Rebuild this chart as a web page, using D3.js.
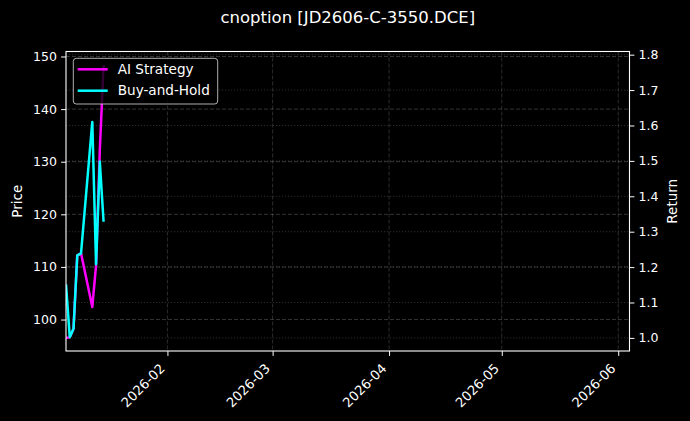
<!DOCTYPE html>
<html>
<head>
<meta charset="utf-8">
<script src="https://cdn.jsdelivr.net/npm/d3@7"></script>
<style>
  body { margin: 0; background: #000; }
  text { font-family: "DejaVu Sans", sans-serif; fill: #fff; }
</style>
</head>
<body>
<div id="chart"></div>
<script>
// values
const dates = ["2026-01-05", "2026-01-06", "2026-01-07", "2026-01-08", "2026-01-09",
               "2026-01-12", "2026-01-13", "2026-01-14", "2026-01-15"];
const aiStrategy = [1.000, 1.002, 1.026, 1.233, 1.239, 1.087, 1.205, 1.530, 1.770];
const buyHold    = [1.151, 1.002, 1.026, 1.233, 1.239, 1.610, 1.208, 1.498, 1.328];

const seriesNames = ["AI Strategy", "Buy-and-Hold"];
const seriesColors = ["#ff00ff", "#00ffff"];

const priceTicks = [100, 110, 120, 130, 140, 150];
const returnTicks = [1.0, 1.1, 1.2, 1.3, 1.4, 1.5, 1.6, 1.7, 1.8];
const monthTicks = ["2026-02-01", "2026-03-01", "2026-04-01", "2026-05-01", "2026-06-01"];
const xRange = ["2026-01-05", "2026-06-04"];
const priceRange = [94.02, 150.95];
const returnRange = [0.963, 1.809];

const W = 690, H = 421;
const margin = {top: 51.5, right: 60.5, bottom: 70, left: 66},
  width = W - margin.left - margin.right,
  height = H - margin.top - margin.bottom;

const parse = d3.utcParse("%Y-%m-%d");

const svg = d3.select("#chart").append("svg")
  .attr("width", W).attr("height", H)
  .style("background", "#000");

svg.append("text")
  .attr("x", margin.left + width / 2).attr("y", 22.5)
  .attr("text-anchor", "middle")
  .attr("font-size", "16.5px")
  .text("cnoption [JD2606-C-3550.DCE]");

const g = svg.append("g").attr("transform", `translate(${margin.left},${margin.top})`);

const x = d3.scaleUtc().domain(xRange.map(parse)).range([0, width]);
const yPrice = d3.scaleLinear().domain(priceRange).range([height, 0]);
const yRet = d3.scaleLinear().domain(returnRange).range([height, 0]);

// grids
g.append("g").selectAll("line").data(priceTicks).join("line")
  .attr("x1", 0).attr("x2", width)
  .attr("y1", d => yPrice(d)).attr("y2", d => yPrice(d))
  .attr("stroke", "rgba(255,255,255,0.25)").attr("stroke-width", 0.8)
  .attr("stroke-dasharray", "4,2");
g.append("g").selectAll("line").data(returnTicks).join("line")
  .attr("x1", 0).attr("x2", width)
  .attr("y1", d => yRet(d)).attr("y2", d => yRet(d))
  .attr("stroke", "rgba(255,255,255,0.22)").attr("stroke-width", 0.8)
  .attr("stroke-dasharray", "1.2,1.8");
g.append("g").selectAll("line").data(monthTicks.map(parse)).join("line")
  .attr("x1", d => x(d)).attr("x2", d => x(d))
  .attr("y1", 0).attr("y2", height)
  .attr("stroke", "rgba(255,255,255,0.22)").attr("stroke-width", 0.8)
  .attr("stroke-dasharray", "4,2");

// lines
svg.append("clipPath").attr("id", "plot")
  .append("rect").attr("width", width).attr("height", height);

const lineGen = d3.line().x((d, i) => x(parse(dates[i]))).y(d => yRet(d));
[aiStrategy, buyHold].forEach((vals, k) => {
  g.append("path")
    .datum(vals)
    .attr("clip-path", "url(#plot)")
    .attr("fill", "none")
    .attr("stroke", seriesColors[k])
    .attr("stroke-width", 2.5)
    .attr("stroke-linejoin", "round")
    .attr("d", lineGen);
});

// frame
g.append("rect").attr("width", width).attr("height", height)
  .attr("fill", "none").attr("stroke", "#fff").attr("stroke-width", 1.1);

// axes
const left = g.append("g").call(d3.axisLeft(yPrice).tickValues(priceTicks)
  .tickSize(4.9).tickPadding(4.2).tickFormat(d3.format("d")));
const right = g.append("g").attr("transform", `translate(${width},0)`)
  .call(d3.axisRight(yRet).tickValues(returnTicks)
  .tickSize(4.9).tickPadding(4.2).tickFormat(d3.format(".1f")));
const bottom = g.append("g").attr("transform", `translate(0,${height})`)
  .call(d3.axisBottom(x).tickValues(monthTicks.map(parse))
  .tickSize(4.9).tickFormat(d3.utcFormat("%Y-%m")));

[left, right, bottom].forEach(a => {
  a.select(".domain").remove();
  a.selectAll(".tick line").attr("stroke", "#fff").attr("stroke-width", 1);
  a.selectAll(".tick text").attr("fill", "#fff").attr("font-size", "12.5px")
    .attr("font-family", "DejaVu Sans");
});

bottom.selectAll(".tick text")
  .attr("font-size", "13.2px")
  .attr("text-anchor", "end")
  .attr("y", null).attr("dy", "-0.24em")
  .attr("transform", "translate(0,20.5) rotate(-45)");

svg.append("text")
  .attr("transform", `translate(17,${margin.top + height / 2}) rotate(-90)`)
  .attr("text-anchor", "middle").attr("dy", "0.35em")
  .attr("font-size", "13.5px").text("Price");
svg.append("text")
  .attr("transform", `translate(672.5,${margin.top + height / 2}) rotate(-90)`)
  .attr("text-anchor", "middle").attr("dy", "0.35em")
  .attr("font-size", "13.5px").text("Return");

// legend
const leg = g.append("g").attr("transform", "translate(7.3,6.8)");
leg.append("rect").attr("width", 144.4).attr("height", 45.7).attr("rx", 3)
  .attr("fill", "rgba(0,0,0,0.8)").attr("stroke", "rgba(204,204,204,0.85)")
  .attr("stroke-width", 1);
seriesNames.forEach((name, k) => {
  const yy = 11 + k * 21.4;
  leg.append("line").attr("x1", 4.4).attr("x2", 34.4)
    .attr("y1", yy).attr("y2", yy)
    .attr("stroke", seriesColors[k]).attr("stroke-width", 2.5);
  leg.append("text").attr("x", 44.4).attr("y", yy).attr("dy", "0.35em")
    .attr("font-size", "13.6px").text(name);
});
</script>
</body>
</html>
